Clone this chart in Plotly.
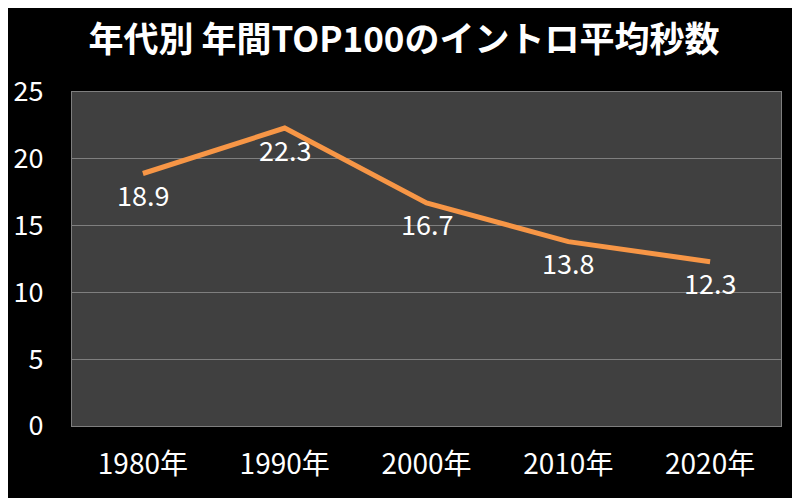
import plotly.graph_objects as go

# datos
decadas = ["1980年", "1990年", "2000年", "2010年", "2020年"]
segundos = [18.9, 22.3, 16.7, 13.8, 12.3]
ticks_y = [0, 5, 10, 15, 20, 25]

FUENTE = "Noto Sans CJK JP, Noto Sans, sans-serif"

fig = go.Figure(
    data=[
        go.Scatter(
            x=decadas,
            y=segundos,
            mode="lines",
            line=dict(color="#F79646", width=5),
            cliponaxis=False,
        )
    ]
)

# etiquetas de valor debajo de cada punto
for d, v in zip(decadas, segundos):
    fig.add_annotation(
        x=d,
        y=v,
        text=f"{v:.1f}",
        showarrow=False,
        yanchor="middle",
        yshift=-21,
        font=dict(color="white", size=27, family=FUENTE),
    )

# la página tiene 8px de margen en body: se compensa con el tamaño
fig.update_layout(
    title=dict(
        text="<b>年代別 年間TOP100のイントロ平均秒数</b>",
        x=0.5,
        xanchor="center",
        y=0.935,
        yanchor="middle",
        font=dict(color="white", size=35, family=FUENTE),
    ),
    width=792,
    height=490,
    paper_bgcolor="black",
    plot_bgcolor="#404040",
    margin=dict(l=64, r=19, t=84, b=72),
    showlegend=False,
    xaxis=dict(
        type="category",
        range=[-0.5, 4.5],
        showgrid=False,
        showline=True,
        linecolor="#7f7f7f",
        mirror=True,
        ticks="",
        automargin=False,
        tickfont=dict(color="white", size=28, family=FUENTE),
        ticklabelstandoff=13,
    ),
    yaxis=dict(
        range=[0, 25],
        tickvals=ticks_y,
        showgrid=True,
        gridcolor="#7f7f7f",
        gridwidth=1,
        showline=True,
        linecolor="#7f7f7f",
        mirror=True,
        zeroline=False,
        ticks="",
        automargin=False,
        tickfont=dict(color="white", size=27, family=FUENTE),
        ticklabelstandoff=22,
    ),
)

fig.write_html("out.html")
